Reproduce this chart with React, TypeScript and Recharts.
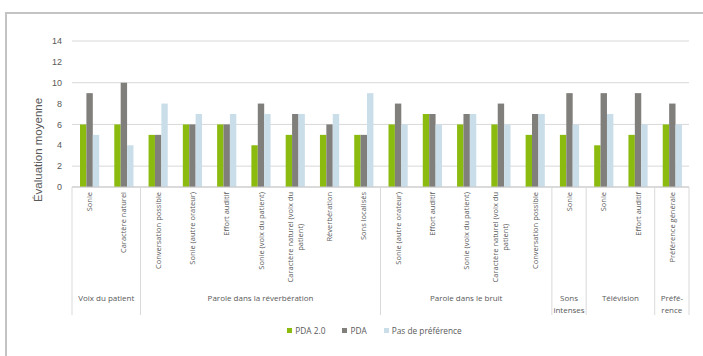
import { BarChart, Bar, XAxis, YAxis, CartesianGrid, Legend } from 'recharts'

const W = 703
const H = 356

const categories = [
  'Sonie',
  'Caractère naturel',
  'Conversation possible',
  'Sonie (autre orateur)',
  'Effort auditif',
  'Sonie (voix du patient)',
  'Caractère naturel (voix du patient)',
  'Réverbération',
  'Sons localisés',
  'Sonie (autre orateur)',
  'Effort auditif',
  'Sonie (voix du patient)',
  'Caractère naturel (voix du patient)',
  'Conversation possible',
  'Sonie',
  'Sonie',
  'Effort auditif',
  'Préférence générale',
]

// group captions, already split into the lines they are drawn on
const groupLabels = [
  ['Voix du patient'],
  ['Parole dans la réverbération'],
  ['Parole dans le bruit'],
  ['Sons', 'intenses'],
  ['Télévision'],
  ['Préfé-', 'rence'],
]
const groupSizes = [2, 7, 5, 1, 2, 1]

const pda20 = [6, 6, 5, 6, 6, 4, 5, 5, 5, 6, 7, 6, 6, 5, 5, 4, 5, 6]
const pda = [9, 10, 5, 6, 6, 8, 7, 6, 5, 8, 7, 7, 8, 7, 9, 9, 9, 8]
const noPref = [5, 4, 8, 7, 7, 7, 7, 7, 9, 6, 6, 7, 6, 7, 6, 7, 6, 6]

const yTicks = [0, 2, 4, 6, 8, 10, 12, 14]

const series = [
  { key: 'pda20', name: 'PDA 2.0', color: '#8cbb0f' },
  { key: 'pda', name: 'PDA', color: '#807f7b' },
  { key: 'none', name: 'Pas de préférence', color: '#cadeea' },
]

const rows = categories.map((label, i) => ({
  label,
  pda20: pda20[i],
  pda: pda[i],
  none: noPref[i],
}))

const MARGIN = { top: 41, right: 14, left: 12, bottom: 29 }
const Y_AXIS_W = 60
const X_AXIS_H = 128
const PLOT_W = W - MARGIN.left - MARGIN.right - Y_AXIS_W
const BAND = PLOT_W / categories.length

const TEXT = '#595959'
const RULE = '#d9d9d9'
const TICK_FONT_SIZE = 7.5
const TICK_FONT = `${TICK_FONT_SIZE}px "Open Sans"`

// first category index of each group
const groupStarts = groupSizes.map((_, g) => groupSizes.slice(0, g).reduce((a, b) => a + b, 0))

let measureCtx: CanvasRenderingContext2D | null = null
function textWidth(s: string, font: string) {
  if (!measureCtx) measureCtx = document.createElement('canvas').getContext('2d')
  if (!measureCtx) return s.length * 4
  measureCtx.font = font
  return measureCtx.measureText(s).width
}

function wrap(s: string, maxChars: number) {
  const out: string[] = []
  let cur = ''
  for (const w of s.split(' ')) {
    const next = cur ? cur + ' ' + w : w
    if (next.length > maxChars && cur) {
      out.push(cur)
      cur = w
    } else cur = next
  }
  if (cur) out.push(cur)
  return out
}

function CategoryTick({ x, y, payload }: any) {
  const i = payload.index
  const lines = wrap(categories[i], 26)
  const longest = Math.max(...lines.map((l) => textWidth(l, TICK_FONT)))
  const lh = 10
  const top = y + 5
  const x0 = x - ((lines.length - 1) * lh) / 2

  const g = groupStarts.indexOf(i)
  const left = x - BAND / 2
  const isLast = i === categories.length - 1

  return (
    <g>
      {lines.map((ln, k) => (
        <text
          key={k}
          transform={`translate(${x0 + k * lh},${top + longest / 2}) rotate(-90)`}
          textAnchor="middle"
          dominantBaseline="central"
          fontFamily="Open Sans"
          fontSize={TICK_FONT_SIZE}
          fill={TEXT}
        >
          {ln}
        </text>
      ))}
      {g >= 0 && (
        <>
          <line x1={left} x2={left} y1={y} y2={y + X_AXIS_H} stroke={RULE} />
          {groupLabels[g].map((ln, k) => (
            <text
              key={k}
              x={left + (groupSizes[g] * BAND) / 2}
              y={y + 114 + k * 12}
              textAnchor="middle"
              fontFamily="Open Sans"
              fontSize={8}
              fill={TEXT}
            >
              {ln}
            </text>
          ))}
        </>
      )}
      {isLast && <line x1={x + BAND / 2} x2={x + BAND / 2} y1={y} y2={y + X_AXIS_H} stroke={RULE} />}
    </g>
  )
}

function LegendContent() {
  return (
    <div
      style={{
        display: 'flex',
        justifyContent: 'center',
        alignItems: 'center',
        gap: 17,
        height: 12,
        paddingLeft: 46,
        fontFamily: 'Open Sans',
        fontSize: 8.3,
        color: TEXT,
      }}
    >
      {series.map((s) => (
        <div key={s.key} style={{ display: 'flex', alignItems: 'center' }}>
          <span style={{ width: 5, height: 5, background: s.color, marginRight: 3 }} />
          {s.name}
        </div>
      ))}
    </div>
  )
}

export default function App() {
  return (
    <div style={{ position: 'absolute', left: 0, top: 0, width: W, height: H, overflow: 'hidden', background: '#fff' }}>
      <div
        style={{
          position: 'absolute',
          left: 5,
          top: 12,
          width: W + 40,
          height: H + 40,
          borderLeft: '2px solid #c3c3c3',
          borderTop: '2px solid #c3c3c3',
        }}
      />
      <BarChart
        width={W}
        height={H}
        data={rows}
        margin={MARGIN}
        barGap={0.001}
        barSize={6.4}
        style={{ position: 'absolute', left: 0, top: 0 }}
      >
        <CartesianGrid vertical={false} stroke={RULE} />
        <XAxis
          dataKey="label"
          interval={0}
          height={X_AXIS_H}
          tickLine={false}
          tickSize={0}
          tickMargin={0}
          axisLine={{ stroke: '#c9c9c9' }}
          tick={<CategoryTick />}
        />
        <YAxis
          domain={[0, 14]}
          ticks={yTicks}
          width={Y_AXIS_W}
          axisLine={false}
          tickLine={false}
          tickMargin={4}
          tick={{ fill: TEXT, fontSize: 9, fontFamily: 'Liberation Sans' }}
          label={({ viewBox }: any) => (
            <text
              transform={`translate(${viewBox.x + 26},${viewBox.y + viewBox.height / 2 + 36}) rotate(-90)`}
              textAnchor="middle"
              dominantBaseline="central"
              fontFamily="Liberation Sans"
              fontSize={11.5}
              fill={TEXT}
            >
              Évaluation moyenne
            </text>
          )}
        />
        {series.map((s) => (
          <Bar key={s.key} dataKey={s.key} name={s.name} fill={s.color} isAnimationActive={false} />
        ))}
        <Legend content={<LegendContent />} wrapperStyle={{ left: 0, width: W, top: 324 }} />
      </BarChart>
    </div>
  )
}
